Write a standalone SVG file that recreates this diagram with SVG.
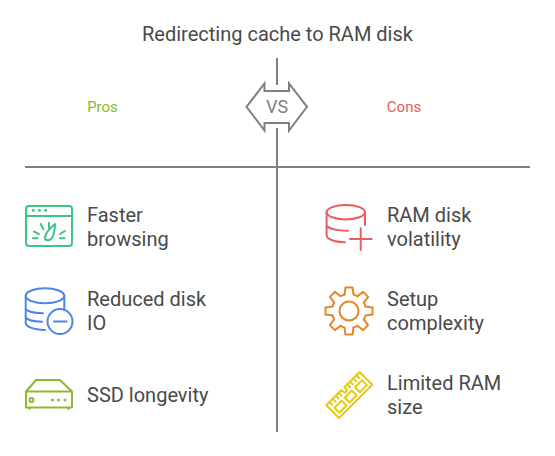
<svg xmlns="http://www.w3.org/2000/svg" xmlns:xlink="http://www.w3.org/1999/xlink" width="555" height="456" viewBox="0 0 555 456">
<style>
text{font-family:Roboto,"Liberation Sans",sans-serif;fill:#4a4a4a}
.t{font-size:20px}
.h{font-size:15px}
.i{fill:none;stroke-width:2;stroke-linecap:round;stroke-linejoin:round}
.l{fill:none;stroke:#808080;stroke-width:2}
</style>
<rect width="555" height="456" fill="#fff"/>
<text x="277.500" y="41" text-anchor="middle" class="t" id="title">Redirecting cache to RAM disk</text>
<g id="connectors">
<path class="l" d="M277 58V85M277 128V432M25 167H530"/>
</g>
<g id="vs">
<path class="l" d="M246.500 106.800L264.500 83.500V91H289V83.500L307 106.800L289 130.500V123H264.500V130.500Z"/>
<text x="277" y="113" text-anchor="middle" style="font-size:18px;fill:#808080">VS</text>
</g>
<g id="pros"><text x="102.500" y="112" text-anchor="middle" class="h" style="fill:#8DB92E">Pros</text></g>
<g id="cons"><text x="404" y="112" text-anchor="middle" class="h" style="fill:#E85A5A">Cons</text></g>
<g id="faster">
<g class="i" stroke="#3CC583">
<rect x="26" y="206" width="46" height="40" rx="3"/>
<path d="M26 216H72M33 238.300h4.500M60 238.300h4.500M34 231.500l5 2.700M65 231l-5 3M40.700 224l2.600 5.300M49 222.700v5.600"/>
<path d="M55 224C50 228 45 234 45 238C45 241 50 241 52 238C54 234 55 229 55 224Z"/>
<path d="M33.300 210.300h.01M39.500 210.300h.01M45.700 210.300h.01" stroke-width="3"/>
</g>
<text x="87" y="222" class="t">Faster</text><text x="87" y="246" class="t">browsing</text>
</g>
<g id="reduced">
<g class="i" stroke="#4E85E8">
<ellipse cx="45" cy="295.800" rx="19.300" ry="7.500"/>
<path d="M25.700 295.800V323C25.700 326.500 33 329.500 45 330M25.700 308C25.700 311 33 313 43 313.300M25.700 316.500C25.700 319.500 33 321.500 42 321.800M64.300 295.800V310"/>
<circle cx="60" cy="321.500" r="12.500"/>
<path d="M54 321.500H66.500"/>
</g>
<text x="87" y="306" class="t">Reduced disk</text><text x="87" y="330" class="t">IO</text>
</g>
<g id="ssd">
<g class="i" stroke="#8DB92E">
<path d="M26 391.500L36 380H60L72 391.500ZM26 391.500V407.500H72V391.500M29.500 407.500V409M68.500 407.500V409"/>
<circle cx="31.500" cy="400" r="2"/>
<path d="M52.500 400h.01M58.500 400h.01M65 400h.01" stroke-width="3"/>
</g>
<text x="87" y="402" class="t">SSD longevity</text>
</g>
<g id="volatility">
<g class="i" stroke="#E85D5D">
<ellipse cx="345.800" cy="212.200" rx="19.200" ry="7.200"/>
<path d="M326.600 212.200V235C326.600 239 334 242 345 242.300M326.600 224.500C326.600 228 335 230.500 348 230.700M365 212.200V225"/>
<path d="M350 239H371.700M360.700 228.300V250"/>
</g>
<text x="387" y="222" class="t">RAM disk</text><text x="387" y="246" class="t">volatility</text>
</g>
<g id="setup">
<g class="i" stroke="#E38627" transform="translate(349 311)">
<circle r="9.500"/>
<path id="tooth" d="M-4.500 -16.400L-3.500 -23.500H3.500L4.500 -16.400A17 17 0 0 1 8.410 -14.780"/>
<use xlink:href="#tooth" href="#tooth" transform="rotate(45)"/>
<use xlink:href="#tooth" href="#tooth" transform="rotate(90)"/>
<use xlink:href="#tooth" href="#tooth" transform="rotate(135)"/>
<use xlink:href="#tooth" href="#tooth" transform="rotate(180)"/>
<use xlink:href="#tooth" href="#tooth" transform="rotate(225)"/>
<use xlink:href="#tooth" href="#tooth" transform="rotate(270)"/>
<use xlink:href="#tooth" href="#tooth" transform="rotate(315)"/>
</g>
<text x="387" y="306" class="t">Setup</text><text x="387" y="330" class="t">complexity</text>
</g>
<g id="ram">
<g class="i" stroke="#E2CB1A" transform="translate(349.300 395) rotate(-45)">
<path d="M-23.500 -9H-2V-6.500A2 2 0 0 0 2 -6.500V-9H23.500V9H-23.500Z"/>
<path d="M-19 -9V-5M-14.500 -9V-5M-10 -9V-5M-6 -9V-5M6 -9V-5M10 -9V-5M14.500 -9V-5M19 -9V-5"/>
<rect x="-19.500" y="-1.500" width="10" height="7"/>
<rect x="-5" y="-1.500" width="10" height="7"/>
<rect x="9.500" y="-1.500" width="10" height="7"/>
</g>
<text x="387" y="390" class="t">Limited RAM</text><text x="387" y="414" class="t">size</text>
</g>
</svg>
